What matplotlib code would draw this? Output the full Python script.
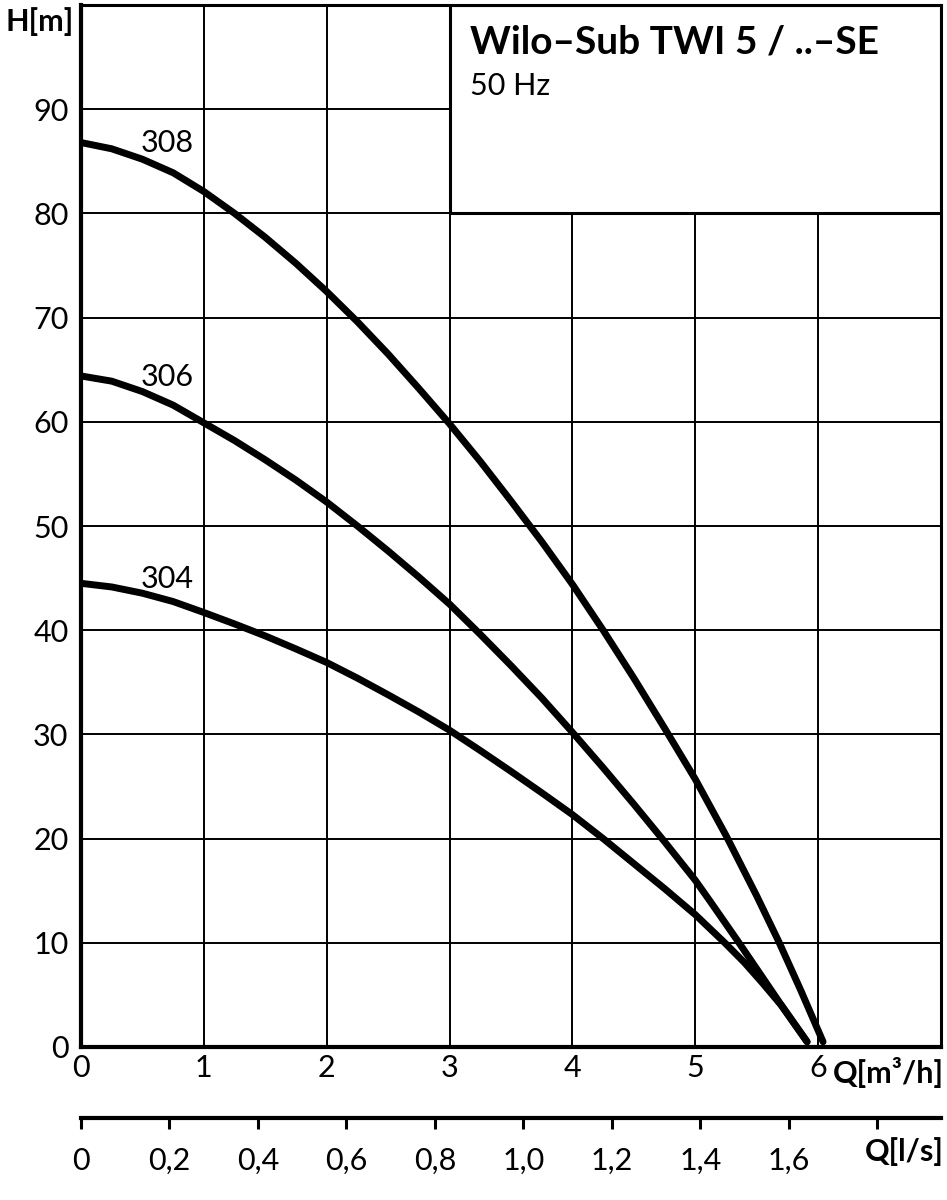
import matplotlib
matplotlib.use("Agg")
import matplotlib.pyplot as plt
from matplotlib.patches import Rectangle

# Pump curves Wilo-Sub TWI 5 / ..-SE, 50 Hz  (Q in m3/h, H in m)
q_304 = [0, 0.25, 0.5, 0.75, 1, 1.25, 1.5, 1.75, 2, 2.25, 2.5, 2.75, 3, 3.25,
         3.5, 3.75, 4, 4.25, 4.5, 4.75, 5, 5.24, 5.4, 5.55, 5.7, 5.91]
h_304 = [44.5, 44.15, 43.55, 42.75, 41.7, 40.6, 39.45, 38.2, 36.9, 35.4, 33.8,
         32.15, 30.4, 28.45, 26.45, 24.4, 22.3, 20.0, 17.6, 15.2, 12.7, 10.0,
         8.1, 6.1, 4.0, 0.5]

q_306 = [0, 0.25, 0.5, 0.75, 1, 1.25, 1.5, 1.75, 2, 2.25, 2.5, 2.75, 3, 3.25,
         3.5, 3.75, 4, 4.25, 4.5, 4.75, 5, 5.12, 5.35, 5.5, 5.69, 5.91]
h_306 = [64.4, 63.9, 62.9, 61.6, 59.9, 58.2, 56.35, 54.4, 52.3, 50.0, 47.6,
         45.1, 42.5, 39.6, 36.6, 33.5, 30.2, 26.8, 23.3, 19.7, 16.0, 14.0, 10.1,
         7.5, 4.2, 0.5]

q_308 = [0, 0.25, 0.5, 0.75, 1, 1.25, 1.5, 1.75, 2, 2.25, 2.5, 2.75, 3, 3.25,
         3.5, 3.75, 4, 4.25, 4.5, 4.75, 5, 5.25, 5.5, 5.68, 5.86, 6.04]
h_308 = [86.8, 86.2, 85.2, 83.9, 82.1, 80.0, 77.7, 75.2, 72.5, 69.6, 66.5, 63.2,
         59.8, 56.2, 52.4, 48.5, 44.4, 40.0, 35.4, 30.6, 25.7, 20.3, 14.5, 10.1,
         5.4, 0.5]

curve_names = ["304", "306", "308"]
label_pos = [(0.7, 44.9), (0.7, 64.3), (0.7, 86.8)]

q_ticks = [0, 1, 2, 3, 4, 5, 6]
h_ticks = [0, 10, 20, 30, 40, 50, 60, 70, 80, 90]
ls_ticks = [0, 0.2, 0.4, 0.6, 0.8, 1.0, 1.2, 1.4, 1.6, 1.8]
ls_labels = ["0", "0,2", "0,4", "0,6", "0,8", "1,0", "1,2", "1,4", "1,6", ""]

Q_MAX = 7.0
H_MAX = 100.0
M3H_PER_LS = 3.6

FONT = "Lato"
FS = 22

plt.rcParams["font.family"] = [FONT, "DejaVu Sans"]

fig = plt.figure(figsize=(9.47, 12), dpi=100)
W, H = 947.0, 1200.0
left, right = 81 / W, 941 / W
bottom, top = 1 - 1047 / H, 1 - 5 / H

ax = fig.add_axes([left, bottom, right - left, top - bottom])
ax.set_xlim(0, Q_MAX)
ax.set_ylim(0, H_MAX)
ax.set_xticks(q_ticks)
ax.set_yticks(h_ticks)
ax.set_xticklabels([str(t) for t in q_ticks], fontsize=FS)
ax.set_yticklabels([str(t) for t in h_ticks], fontsize=FS)
ax.tick_params(length=0, pad=5)
ax.tick_params(axis="y", pad=9)
ax.grid(True, color="black", linewidth=1.4)
ax.set_axisbelow(True)
for side in ["left", "bottom"]:
    ax.spines[side].set_linewidth(3.0)
for side in ["top", "right"]:
    ax.spines[side].set_linewidth(2.2)

# title box in upper right corner covers the grid
box = Rectangle((3, 80), 4, 20, facecolor="white", edgecolor="black",
                linewidth=2.2, zorder=2)
ax.add_patch(box)
ax.text(470, H - 42, "Wilo\u2013Sub TWI 5 / ..\u2013SE", transform=None,
        fontsize=28, fontweight="bold", va="center", ha="left", zorder=3)
ax.text(470, H - 86, "50 Hz", transform=None,
        fontsize=FS, va="center", ha="left", zorder=3)

for q, h in [(q_304, h_304), (q_306, h_306), (q_308, h_308)]:
    ax.plot(q, h, color="black", linewidth=5.0, solid_capstyle="round",
            solid_joinstyle="round", zorder=4)

for name, (x, y) in zip(curve_names, label_pos):
    ax.text(x, y, name, fontsize=FS, ha="center", va="center", zorder=5)

fig.text(5 / W, 1 - 22 / H, "H[m]", fontsize=FS, fontweight="bold",
         ha="left", va="center")
fig.text(944 / W, 1 - 1072 / H, "Q[m\u00b3/h]", fontsize=FS, fontweight="bold",
         ha="right", va="center")

# second flow scale in l/s
ax2 = fig.add_axes([left, 1 - 1118 / H, right - left, 0.0001])
ax2.set_xlim(0, Q_MAX / M3H_PER_LS)
ax2.set_ylim(0, 1)
ax2.set_yticks([])
ax2.set_xticks(ls_ticks)
ax2.set_xticklabels(ls_labels, fontsize=FS)
ax2.tick_params(axis="x", direction="out", length=8, width=2.2, pad=13)
for side in ["top", "left", "right"]:
    ax2.spines[side].set_visible(False)
ax2.spines["bottom"].set_linewidth(3.0)
ax2.patch.set_visible(False)
fig.text(944 / W, 1 - 1152 / H, "Q[l/s]", fontsize=FS, fontweight="bold",
         ha="right", va="center")

fig.savefig("out.png", dpi=100, facecolor="white")
